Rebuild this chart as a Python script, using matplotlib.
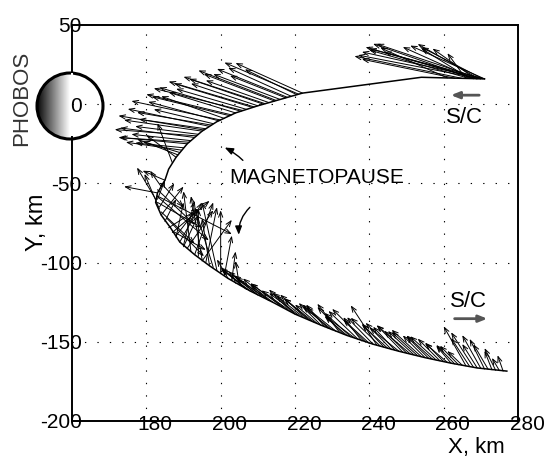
import numpy as np
import matplotlib
matplotlib.use("Agg")
import matplotlib.pyplot as plt
from matplotlib.patches import Circle, Rectangle
from matplotlib.transforms import ScaledTranslation

plt.rcParams['font.family'] = ['Liberation Sans Narrow', 'Liberation Sans', 'DejaVu Sans']
plt.rcParams['axes.unicode_minus'] = False

# spacecraft trajectory (km)
traj_x = [271, 262, 254, 246, 238, 230, 222, 216, 210, 204, 199, 195, 191, 188, 186, 185,
          183, 182.5, 184, 186.5, 189, 193, 197, 202, 208, 214, 220, 227, 234, 241, 248,
          255, 262, 269, 277]
traj_y = [16, 16.5, 17, 14.5, 12, 9.5, 7, 3, -1, -5.5, -11, -17, -25, -33.5, -41, -48,
          -56, -62, -70, -78, -87, -95, -102, -110, -118, -125, -132.5, -139.5, -146,
          -151.5, -156, -160, -163.5, -166.5, -168.5]

# field vectors near the inbound end (tail position and components, km)
ur_x = [271, 270, 269, 268, 267, 265, 263, 261, 271, 270.5, 269.5, 268.5, 266,
        271, 270, 269, 268, 267]
ur_y = [16, 16, 16, 16.1, 16.2, 16.3, 16.4, 16.6, 16, 16, 16, 16.1, 16.2,
        16, 16, 16, 16.1, 16.2]
ur_u = [-33, -33, -30, -27, -27, -29, -25, -18, -20, -16.5, -16.5, -11.5, -5,
        -31, -28, -25, -19, -13]
ur_v = [17, 15, 20, 22, 18, 14, 12, 19, 21, 20, 22, 19, 16,
        19, 22, 17, 20, 19]

# field vectors, inbound leg before the magnetopause
ul_x = [222, 221, 220.5, 219, 218, 217.5, 216, 215, 214.5, 213, 212, 211.5, 210, 209,
        208.5, 207, 206, 205.5, 204, 203, 202.5, 201, 200, 199.5, 198, 197.5, 197, 196,
        195.5, 195, 194, 193.5, 193, 192, 191.5, 191, 190, 189.5, 189, 188.5, 188, 187]
ul_y = [7, 6.3, 6, 5, 4.3, 4, 3, 2.3, 2, 1, 0.3, 0, -1, -1.7,
        -2, -3.3, -4, -4.5, -5.5, -6.8, -7.3, -9, -10, -10.5, -12.3, -13.2, -14, -15.5,
        -16.3, -17, -19, -20, -21, -23, -24, -25, -27.5, -29, -30.5, -32, -33.5, -37]
ul_u = [-18, -20, -14, -17, -19, -15, -18, -21, -19, -17, -22, -20, -18, -23,
        -21, -19, -24, -22, -18, -23, -21, -17, -24, -19, -16, -20, -22, -18,
        -23, -21, -17, -22, -20, -16, -19, -18, -13, -15, -10, -11, -8, -4]
ul_v = [19, 20, 16, 18, 18, 14, 16, 19, 17, 14, 17, 16, 14, 16,
        15, 13, 14, 15, 13, 13, 12, 14, 12, 12, 9, 8, 11, 6,
        9, 7, 5, 4, 6, 4, 3, 4, 3, 5, 7, 10, 14, 25]

# field vectors near the flank (tangled region)
fl_x = [185, 184, 183, 183, 183, 183.5, 184, 185, 186, 187, 188, 189, 190, 192,
        194, 195, 196, 197, 199, 200, 202, 203, 204,
        184, 183, 182.8, 183, 184, 185.5, 187, 188, 190, 191, 193, 195, 198, 201,
        182.5, 183.5]
fl_y = [-48, -52, -56, -58, -60, -65, -70, -74, -78, -81, -84, -87, -90, -93,
        -96, -98, -100, -102, -105, -107, -110, -111, -113,
        -50, -54, -58, -62, -68, -72, -80, -83, -89, -91, -95, -99, -103, -108,
        -60, -66]
fl_u = [-6, -3, -9, 20, 2, 4, 6, 3, 8, 10, 2, 6, 4, -2,
        0, -3, 3, -2, -4, 0, -3, 1, -1,
        6, 10, 14, 12, 9, 10, 9, 5, 3, 7, 5, 8, -5, 2,
        -5, -4]
fl_v = [6, 10, 4, -24, 12, 15, 18, 14, 12, 20, 22, 25, 20, 38,
        30, 40, 35, 30, 43, 40, 12, 18, 7,
        -15, -22, -28, -16, -20, -24, -12, 15, 28, 24, 33, 26, 38, 25,
        20, 22]

# field vectors, outbound leg
ob_x = [205, 206.5, 207, 208, 209.5, 210, 211, 212.5, 213, 214, 216, 217, 218, 219,
        220, 221, 222, 223, 224, 225, 226, 227, 228, 229, 230, 231, 232, 233, 234,
        235, 236, 237, 238, 239, 240, 241, 242, 243, 244, 245, 246, 247, 248, 249,
        250, 251, 252, 253, 254, 255, 256, 257, 258, 259, 260, 261, 262, 263, 264,
        265, 266, 267, 268, 269, 270, 271, 272, 273, 274, 275, 276]
ob_y = [-114, -116, -117, -118, -119.5, -120.5, -121, -123, -124, -125, -127, -128.2,
        -129.5, -131, -132.5, -133.2, -134, -135.2, -136.5, -137.5, -138.5, -139.5,
        -140.5, -141.5, -142.5, -143.3, -144, -145, -146, -146.8, -147.5, -148.5,
        -149.5, -150.2, -151, -151.5, -152, -152.8, -153.5, -154.2, -155, -155.5,
        -156, -156.5, -157, -157.6, -158.2, -158.8, -159.4, -160, -160.5, -161, -161.5,
        -162, -162.5, -163, -163.5, -164, -164.5, -164.8, -165.2, -165.6, -166,
        -166.4, -166.8, -167.2, -167.5, -167.7, -168, -168.2, -168.5]
ob_u = [-1, -6, -7, -8, -5, -8, -7, -9, -7, -6, -8, -9, -7, -6,
        -5, -8, -8, -7, -7, -8, -6, -6, -5, -7, -8, -8, -6, -7, -6,
        -7, -8, -8, -5, -9, -7, -7, -7, -8, -6, -7, -7, -6, -8, -7,
        -6, -9, -7, -7, -8, -6, -6, -7, -7, -6, -5, -6, -4, -5, -5,
        -4, -6, -5, -6, -4, -5, -4, -4, -2, -3, -2, -1.5]
ob_v = [15, 12, 14, 14, 9, 15, 12, 15, 14, 11, 14, 15, 12, 14,
        12, 14, 15, 15, 14, 15, 12, 14, 14, 15, 15, 15, 18, 17, 12,
        15, 14, 18, 15, 21, 15, 17, 25, 18, 15, 15, 17, 15, 15, 17,
        14, 18, 15, 15, 17, 14, 14, 15, 15, 14, 12, 12, 11, 12, 12,
        9, 25, 18, 22, 15, 21, 19, 16, 12, 14, 8, 10]

x_ticks = [180, 200, 220, 240, 260, 280]
y_ticks = [-200, -150, -100, -50, 0, 50]

fig = plt.figure(figsize=(5.47, 4.62), dpi=100)
ax = fig.add_axes([72 / 547, 1 - 421 / 462, 446 / 547, 396 / 462], zorder=2)
ax.patch.set_alpha(0)

ax.set_xlim(160, 280)
ax.set_ylim(-200, 50)

ax.plot(traj_x, traj_y, color='k', lw=1.1, zorder=3)

arrow_kw = dict(arrowstyle='->,head_length=0.4,head_width=0.15', lw=0.7, color='k',
                shrinkA=0, shrinkB=0)
for xs, ys, us, vs in [(ur_x, ur_y, ur_u, ur_v), (ul_x, ul_y, ul_u, ul_v),
                       (fl_x, fl_y, fl_u, fl_v), (ob_x, ob_y, ob_u, ob_v)]:
    for x0, y0, u, v in zip(xs, ys, us, vs):
        ax.annotate('', xy=(x0 + u, y0 + v), xytext=(x0, y0), arrowprops=arrow_kw,
                    zorder=3)

# axes styling
for s in ax.spines.values():
    s.set_linewidth(1.4)
ax.spines['left'].set_zorder(1.0)
ax.add_patch(Rectangle((159.6, -20), 0.8, 40, facecolor='white', edgecolor='none',
                       clip_on=False, zorder=1.2))

ax.set_xticks(x_ticks)
ax.set_xticklabels([str(t) for t in x_ticks])
ax.set_yticks(y_ticks)
ax.set_yticklabels([str(t) for t in y_ticks])
ax.tick_params(axis='both', length=0, labelsize=15)
ax.tick_params(axis='x', pad=-4)
ax.tick_params(axis='y', pad=-7)
for lab in ax.get_xticklabels():
    lab.set_transform(lab.get_transform() + ScaledTranslation(0.09, 0, fig.dpi_scale_trans))

for t in x_ticks[:-1]:
    ax.axvline(t, color='k', lw=0.8, ls=(0, (1.2, 10)), zorder=1)
for t in y_ticks[1:-1]:
    ax.axhline(t, color='k', lw=0.8, ls=(0, (1.2, 10)), zorder=1)

ax.set_xlabel('X, km', fontsize=16)
ax.xaxis.set_label_coords(0.906, -0.040)
ax.set_ylabel('Y, km', fontsize=17)
ax.yaxis.set_label_coords(-0.0785, 0.5025)
ax.yaxis.label.set_va('center')

ax.text(225.8, -46.2, 'MAGNETOPAUSE', fontsize=15, ha='center', va='center')
ax.annotate('', xy=(200.4, -26.6), xytext=(206.5, -36.7),
            arrowprops=dict(arrowstyle='-|>,head_length=0.5,head_width=0.2', lw=1,
                            color='k', connectionstyle='arc3,rad=0.1'))
ax.annotate('', xy=(204.9, -84.2), xytext=(208.4, -63.9),
            arrowprops=dict(arrowstyle='-|>,head_length=0.5,head_width=0.2', lw=1,
                            color='k', connectionstyle='arc3,rad=0.25'))

ax.text(265.7, -8.2, 'S/C', fontsize=16, ha='center', va='center')
ax.annotate('', xy=(261.2, 5.7), xytext=(270.3, 5.7),
            arrowprops=dict(arrowstyle='-|>,head_length=0.5,head_width=0.2', lw=2,
                            color='#555555'))
ax.text(266.8, -124.7, 'S/C', fontsize=16, ha='center', va='center')
ax.annotate('', xy=(272.5, -135.4), xytext=(262.2, -135.4),
            arrowprops=dict(arrowstyle='-|>,head_length=0.5,head_width=0.2', lw=2,
                            color='#555555'))

# Phobos disc
pax = fig.add_axes([(70 - 36) / 547, 1 - (106 + 36) / 462, 72 / 547, 72 / 462], zorder=1)
pax.axis('off')
pax.add_patch(Circle((0, 0), 33, facecolor='white', edgecolor='none', zorder=1))
shade = np.linspace(0.02, 1.0, 200).reshape(1, -1)
im = pax.imshow(shade, cmap='gray', vmin=0, vmax=1, extent=(-33, 0, -33, 33),
                aspect='auto', zorder=2)
im.set_clip_path(Circle((0, 0), 33, transform=pax.transData))
pax.add_patch(Circle((0, 0), 33, facecolor='none', edgecolor='k', lw=2.2, zorder=3))
pax.set_xlim(-36, 36)
pax.set_ylim(-36, 36)
pax.set_aspect('equal')

fig.text(22 / 547, 1 - 98 / 462, 'PHOBOS', rotation=90, fontsize=16, color='#333333',
         ha='center', va='center')

fig.savefig('out.png', dpi=100)
